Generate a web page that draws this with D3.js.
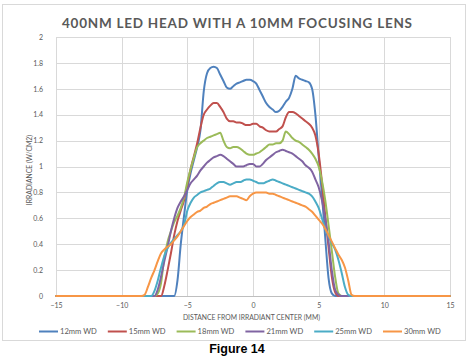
<!DOCTYPE html>
<html><head><meta charset="utf-8">
<script src="https://cdn.jsdelivr.net/npm/d3@7"></script>
<style>body{margin:0;background:#fff}svg{display:block}</style>
</head><body><svg id="c" width="474" height="359"></svg>
<script>
const xMM = [-15,-12,-10,-9,-8.75,-8.5,-8.25,
 -8,-7.75,-7.5,-7.25,-7,-6.75,-6.5,-6.25,
 -6,-5.75,-5.5,-5.25,-5,-4.75,-4.5,-4.25,
 -4,-3.75,-3.5,-3.25,-3,-2.75,-2.5,-2.25,
 -2,-1.75,-1.5,-1.25,-1,-0.75,-0.5,-0.25,
 0,0.25,0.5,0.75,1,1.25,1.5,1.75,
 2,2.25,2.5,2.75,3,3.25,3.5,3.75,
 4,4.25,4.5,4.75,5,5.25,5.5,5.75,
 6,6.25,6.5,6.75,7,7.25,7.5,7.75,
 8,8.25,8.5,8.75,9,10,12,15];
const wd12 = [0,0,0,0,0,0,0,
 0,0,0,0,0,0,0,0,
 0,0.12,0.4,0.62,0.82,0.95,1.05,1.15,
 1.28,1.58,1.72,1.76,1.77,1.76,1.71,1.66,
 1.61,1.6,1.62,1.64,1.65,1.66,1.67,1.67,
 1.66,1.64,1.59,1.54,1.49,1.46,1.44,1.42,
 1.43,1.46,1.5,1.53,1.6,1.7,1.68,1.67,
 1.66,1.65,1.6,1.4,1.08,0.78,0.45,0.14,
 0.02,0,0,0,0,0,0,0,
 0,0,0,0,0,0,0,0];
const wd15 = [0,0,0,0,0,0,0,
 0,0,0,0,0,0.08,0.2,0.33,
 0.47,0.58,0.66,0.74,0.86,0.98,1.08,1.18,
 1.3,1.4,1.44,1.47,1.49,1.49,1.46,1.42,
 1.37,1.35,1.35,1.34,1.34,1.33,1.32,1.32,
 1.33,1.33,1.31,1.3,1.28,1.27,1.27,1.27,
 1.29,1.31,1.38,1.42,1.42,1.41,1.39,1.37,
 1.35,1.33,1.3,1.24,1.1,0.88,0.62,0.38,
 0.15,0.03,0,0,0,0,0,0,
 0,0,0,0,0,0,0,0];
const wd18 = [0,0,0,0,0,0,0,
 0,0,0,0.02,0.1,0.3,0.42,0.5,
 0.57,0.62,0.68,0.76,0.88,0.98,1.07,1.15,
 1.18,1.2,1.22,1.23,1.24,1.25,1.26,1.2,
 1.15,1.14,1.15,1.15,1.14,1.12,1.1,1.09,
 1.09,1.1,1.11,1.13,1.15,1.17,1.17,1.18,
 1.18,1.2,1.27,1.25,1.22,1.2,1.19,1.17,
 1.15,1.13,1.1,1.06,1.0,0.89,0.74,0.55,
 0.35,0.15,0.02,0,0,0,0,0,
 0,0,0,0,0,0,0,0];
const wd21 = [0,0,0,0,0,0,0,
 0,0,0,0.05,0.15,0.27,0.38,0.5,
 0.6,0.68,0.73,0.77,0.82,0.87,0.9,0.93,
 0.97,1.0,1.03,1.05,1.07,1.08,1.09,1.08,
 1.06,1.04,1.02,1.0,1.0,1.0,1.01,1.02,
 1.02,1.0,1.0,1.02,1.05,1.07,1.09,1.11,
 1.12,1.13,1.12,1.11,1.1,1.08,1.06,1.04,
 1.01,0.99,0.96,0.9,0.84,0.74,0.6,0.42,
 0.2,0.05,0.01,0,0,0,0,0,
 0,0,0,0,0,0,0,0];
const wd25 = [0,0,0,0,0,0,0,
 0,0,0.04,0.12,0.22,0.31,0.37,0.41,
 0.44,0.47,0.5,0.55,0.66,0.72,0.76,0.78,
 0.8,0.81,0.82,0.83,0.85,0.87,0.88,0.88,
 0.87,0.86,0.87,0.88,0.88,0.89,0.9,0.9,
 0.89,0.88,0.87,0.87,0.88,0.89,0.9,0.89,
 0.88,0.87,0.86,0.85,0.84,0.83,0.82,0.81,
 0.8,0.79,0.77,0.73,0.68,0.6,0.52,0.46,
 0.41,0.36,0.28,0.18,0.07,0.01,0,0,
 0,0,0,0,0,0,0,0];
const wd30 = [0,0,0,0,0,0,0.01,
 0.07,0.14,0.2,0.27,0.33,0.36,0.38,0.4,
 0.43,0.46,0.5,0.54,0.58,0.61,0.63,0.65,
 0.66,0.68,0.69,0.71,0.72,0.73,0.74,0.75,
 0.76,0.77,0.77,0.77,0.76,0.75,0.74,0.77,
 0.79,0.8,0.8,0.8,0.8,0.79,0.79,0.78,
 0.77,0.76,0.75,0.74,0.73,0.72,0.71,0.7,
 0.69,0.67,0.65,0.62,0.59,0.56,0.52,0.47,
 0.42,0.37,0.32,0.28,0.22,0.12,0.01,0,
 0,0,0,0,0,0,0,0];
const seriesNames = ["12mm WD","15mm WD","18mm WD","21mm WD","25mm WD","30mm WD"];
const seriesData = [wd12, wd15, wd18, wd21, wd25, wd30];
const seriesColors = ["#4F81BD","#C0504D","#9BBB59","#8064A2","#4BACC6","#F79646"];
const xTicks = [-15,-10,-5,0,5,10,15];
const yTicks = [0,0.2,0.4,0.6,0.8,1,1.2,1.4,1.6,1.8,2];

const svg = d3.select("#c");
const font = "Lato, 'Open Sans', sans-serif";
const txt = "#595959";
svg.append("rect").attr("x",2.5).attr("y",4.5).attr("width",463).attr("height",336)
  .attr("fill","#fff").attr("stroke","#d9d9d9");

const x = d3.scaleLinear().domain([-15,15]).range([56,450]);
const y = d3.scaleLinear().domain([0,2]).range([296,37]);

// gridlines
svg.append("g").selectAll("line").data(yTicks.filter(d=>d>0)).join("line")
  .attr("x1",x(-15)).attr("x2",x(15)).attr("y1",d=>Math.round(y(d))+0.5).attr("y2",d=>Math.round(y(d))+0.5)
  .attr("stroke","#d9d9d9").attr("stroke-width",1);
svg.append("g").selectAll("line").data(xTicks).join("line")
  .attr("y1",y(0)).attr("y2",y(2)).attr("x1",d=>Math.round(x(d))+0.5).attr("x2",d=>Math.round(x(d))+0.5)
  .attr("stroke","#d9d9d9").attr("stroke-width",1);
svg.append("line").attr("x1",x(-15)).attr("x2",x(15)).attr("y1",Math.round(y(0))+0.5).attr("y2",Math.round(y(0))+0.5)
  .attr("stroke","#bfbfbf");

// axes via d3
const yAxis = d3.axisLeft(y).tickValues(yTicks).tickSize(0).tickPadding(13).tickFormat(d3.format("~g"));
const gy = svg.append("g").attr("transform",`translate(${x(-15)},0)`).call(yAxis);
gy.select(".domain").remove();
gy.selectAll("text").attr("fill",txt).attr("font-family",font).attr("font-size",7);
const xAxis = d3.axisBottom(x).tickValues(xTicks).tickSize(0).tickPadding(7).tickFormat(d3.format("~g"));
const gx = svg.append("g").attr("transform",`translate(0,${y(0)})`).call(xAxis);
gx.select(".domain").remove();
gx.selectAll("text").attr("fill",txt).attr("font-family",font).attr("font-size",7);

// lines
const line = d3.line().x((d,i)=>x(xMM[i])).y(d=>y(d)).curve(d3.curveMonotoneX);
svg.append("g").selectAll("path").data(seriesData).join("path")
  .attr("d",line).attr("fill","none").attr("stroke",(d,i)=>seriesColors[i])
  .attr("stroke-width",2).attr("stroke-linejoin","round").attr("stroke-linecap","round");

// titles
svg.append("text").attr("x",237).attr("y",28).attr("text-anchor","middle")
  .attr("font-family",font).attr("font-weight","bold").attr("font-size",13.5).attr("fill",txt)
  .attr("textLength",350).attr("lengthAdjust","spacing")
  .text("400NM LED HEAD WITH A 10MM FOCUSING LENS");
svg.append("text").attr("transform","translate(32,170) rotate(-90)").attr("text-anchor","middle")
  .attr("font-family",font).attr("font-size",6.8).attr("fill",txt).text("IRRADIANCE (W/CM2)");
svg.append("text").attr("x",251.5).attr("y",320).attr("text-anchor","middle")
  .attr("font-family",font).attr("font-size",6.8).attr("fill",txt).text("DISTANCE FROM IRRADIANT CENTER (MM)");

// legend
const lg = svg.append("g").selectAll("g").data(seriesNames).join("g")
  .attr("transform",(d,i)=>`translate(${39+i*68.8},331.5)`);
lg.append("line").attr("x1",0).attr("x2",19).attr("y1",0).attr("y2",0)
  .attr("stroke",(d,i)=>seriesColors[i]).attr("stroke-width",2);
lg.append("text").attr("x",21).attr("y",0).attr("dy","0.35em")
  .attr("font-family",font).attr("font-size",7.6).attr("fill",txt).text(d=>d);

svg.append("text").attr("x",237).attr("y",353).attr("text-anchor","middle")
  .attr("font-family","'Liberation Sans', Arial, sans-serif").attr("font-weight","bold")
  .attr("font-size",12.5).attr("fill","#000").text("Figure 14");
</script></body></html>
